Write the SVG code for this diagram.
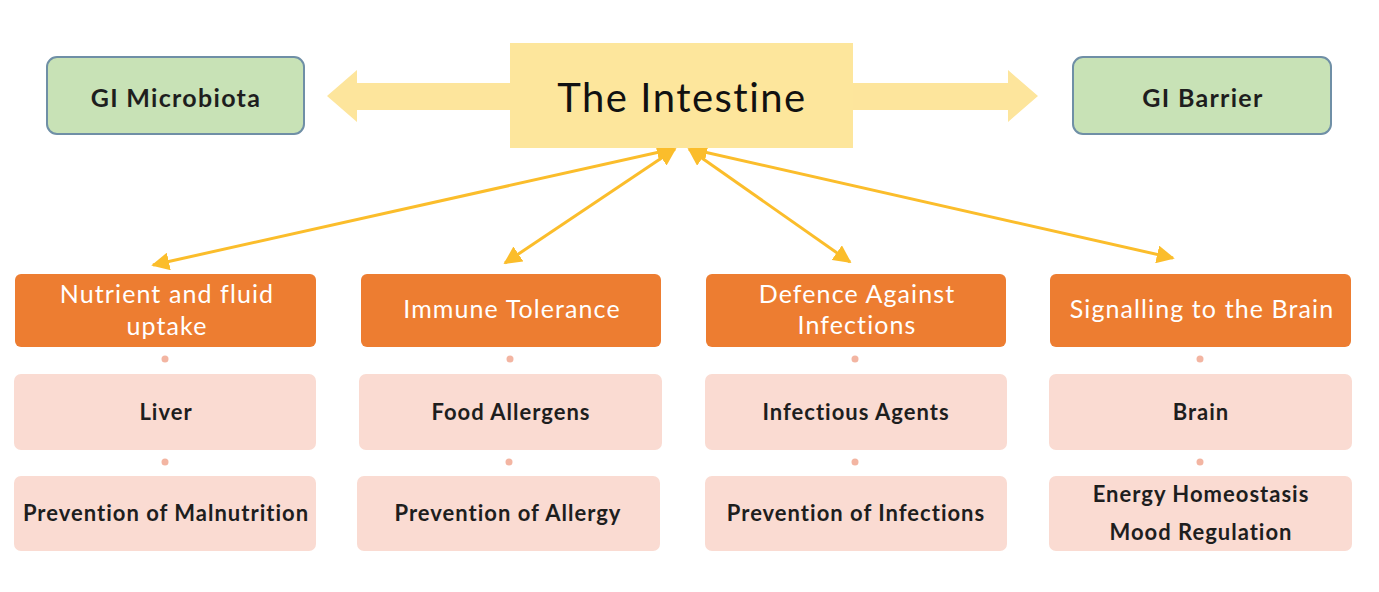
<svg xmlns="http://www.w3.org/2000/svg" width="1379" height="592" viewBox="0 0 1379 592">
<defs>
<style>
.t{font-family:Lato,"Liberation Sans",sans-serif;text-anchor:middle;dominant-baseline:central}
.gi{fill:#c8e2b6;stroke:#6f8fa6;stroke-width:2}
.hd{fill:#ed7d31}
.pk{fill:#fadbd2}
.dot{fill:#f3b5a2}
.wh{fill:#ffffff;font-size:25px;letter-spacing:1.1px}
.dk{fill:#1e1e1e;font-size:22px;font-weight:bold;letter-spacing:1px}
.gt{fill:#1e1e1e;font-size:25px;font-weight:bold;letter-spacing:1.3px}
.con{stroke:#fbbd2b;stroke-width:3;fill:none;marker-start:url(#ah);marker-end:url(#ah)}
</style>
<marker id="ah" viewBox="0 0 10 10" refX="9" refY="5" markerWidth="6" markerHeight="6" orient="auto-start-reverse" markerUnits="strokeWidth">
<path d="M0,0 L10,5 L0,10 z" fill="#fbbd2b"/>
</marker>
</defs>
<rect width="1379" height="592" fill="#ffffff"/>
<g id="block-arrows">
<polygon points="510,83 357,83 357,70 327,96 357,122 357,110 510,110" fill="#fde59c"/>
<polygon points="853,83 1008,83 1008,70 1038,96 1008,122 1008,110 853,110" fill="#fde59c"/>
</g>
<g id="connectors">
<line class="con" x1="673" y1="149" x2="153" y2="265"/>
<line class="con" x1="675" y1="149" x2="505" y2="263"/>
<line class="con" x1="689" y1="149" x2="850" y2="262"/>
<line class="con" x1="691" y1="149" x2="1173" y2="258"/>
</g>
<g id="intestine">
<rect x="510" y="43" width="343" height="105" fill="#fde69c"/>
<text class="t" x="682" y="97" font-size="40" letter-spacing="1.5" fill="#111">The Intestine</text>
</g>
<g id="gi-microbiota">
<rect class="gi" x="47" y="57" width="257" height="77" rx="10"/>
<text class="t gt" x="176" y="97">GI Microbiota</text>
</g>
<g id="gi-barrier">
<rect class="gi" x="1073" y="57" width="258" height="77" rx="10"/>
<text class="t gt" x="1203" y="97">GI Barrier</text>
</g>
<g id="col1">
<rect class="hd" x="15" y="274" width="301" height="73" rx="6"/>
<text class="t wh" x="167" y="293">Nutrient and fluid</text>
<text class="t wh" x="167" y="325">uptake</text>
<circle class="dot" cx="165" cy="359" r="3.5"/>
<rect class="pk" x="14" y="374" width="302" height="76" rx="7"/>
<text class="t dk" x="166" y="411">Liver</text>
<circle class="dot" cx="165" cy="462" r="3.5"/>
<rect class="pk" x="14" y="476" width="302" height="75" rx="7"/>
<text class="t dk" x="166" y="512">Prevention of Malnutrition</text>
</g>
<g id="col2">
<rect class="hd" x="361" y="274" width="300" height="73" rx="6"/>
<text class="t wh" x="512" y="308">Immune Tolerance</text>
<circle class="dot" cx="510" cy="359" r="3.5"/>
<rect class="pk" x="359" y="374" width="303" height="76" rx="7"/>
<text class="t dk" x="511" y="411">Food Allergens</text>
<circle class="dot" cx="509" cy="462" r="3.5"/>
<rect class="pk" x="357" y="476" width="303" height="75" rx="7"/>
<text class="t dk" x="508" y="512">Prevention of Allergy</text>
</g>
<g id="col3">
<rect class="hd" x="706" y="274" width="300" height="73" rx="6"/>
<text class="t wh" x="857" y="293">Defence Against</text>
<text class="t wh" x="857" y="324">Infections</text>
<circle class="dot" cx="855" cy="359" r="3.5"/>
<rect class="pk" x="705" y="374" width="302" height="76" rx="7"/>
<text class="t dk" x="856" y="411">Infectious Agents</text>
<circle class="dot" cx="855" cy="462" r="3.5"/>
<rect class="pk" x="705" y="476" width="302" height="75" rx="7"/>
<text class="t dk" x="856" y="512">Prevention of Infections</text>
</g>
<g id="col4">
<rect class="hd" x="1050" y="274" width="301" height="73" rx="6"/>
<text class="t wh" x="1202" y="308">Signalling to the Brain</text>
<circle class="dot" cx="1200" cy="359" r="3.5"/>
<rect class="pk" x="1049" y="374" width="303" height="76" rx="7"/>
<text class="t dk" x="1201" y="411">Brain</text>
<circle class="dot" cx="1200" cy="462" r="3.5"/>
<rect class="pk" x="1049" y="476" width="303" height="75" rx="7"/>
<text class="t dk" x="1201" y="493">Energy Homeostasis</text>
<text class="t dk" x="1201" y="531">Mood Regulation</text>
</g>
</svg>
